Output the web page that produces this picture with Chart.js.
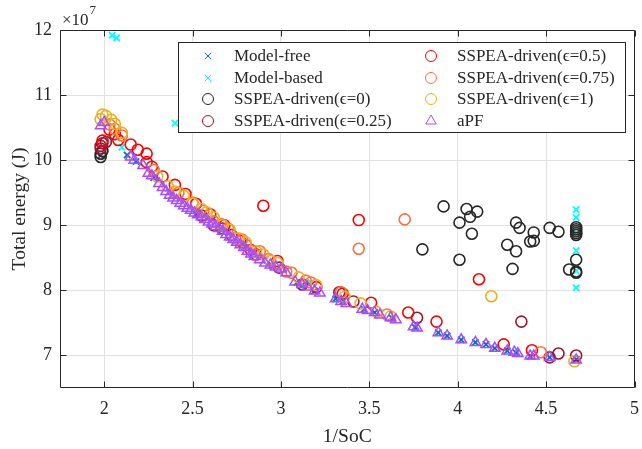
<!DOCTYPE html>
<html><head><meta charset="utf-8">
<script src="https://cdn.jsdelivr.net/npm/chart.js@4/dist/chart.umd.min.js"></script>
<style>html,body{margin:0;padding:0;background:#fff}</style>
</head><body>
<canvas id="c" width="642" height="449" style="display:block;width:642px;height:449px"></canvas>
<script>
const xTicks=[2,2.5,3,3.5,4,4.5,5];
const yTicks=[7,8,9,10,11,12];
const seriesNames=['Model-free','Model-based','SSPEA-driven(ϵ=0)','SSPEA-driven(ϵ=0.25)','SSPEA-driven(ϵ=0.5)','SSPEA-driven(ϵ=0.75)','SSPEA-driven(ϵ=1)','aPF'];

const mfX=[1.98,2.13,2.18,2.28,2.38,2.52,2.66,2.79,2.95,3.09,3.12,3.19,3.31,3.35,3.47,3.53,3.63,3.76,3.89,3.94,4.02,4.10,4.16,4.21,4.28,4.33,4.41,4.52,4.67];
const mfY=[10.07,10.08,9.98,9.73,9.45,9.17,8.93,8.66,8.38,8.12,8.08,7.99,7.87,7.83,7.71,7.66,7.57,7.43,7.35,7.30,7.24,7.20,7.17,7.11,7.07,7.04,6.99,6.97,6.94];

const mbX=[2.045,2.07,2.40,2.10,2.02,3.17,4.67,4.67,4.67,4.67,4.67,4.67];
const mbY=[11.92,11.88,10.57,10.20,10.31,8.12,9.24,9.12,8.89,8.61,8.30,8.04];

const e0X=[1.98,1.98,1.99,3.92,4.05,4.11,4.07,4.01,4.08,3.80,4.01,4.28,4.33,4.35,4.33,4.31,4.43,4.41,4.43,4.52,4.57,4.67,4.67,4.67,4.67,4.67,4.67,4.63,4.67,4.67];
const e0Y=[10.05,10.10,10.14,9.29,9.25,9.21,9.13,9.04,8.87,8.63,8.47,8.70,9.04,8.96,8.60,8.33,8.89,8.75,8.76,8.96,8.90,8.97,8.94,8.91,8.88,8.85,8.47,8.32,8.29,8.27];

const e25X=[1.98,1.98,1.99,2.01,2.55,2.62,2.67,2.72,2.86,2.99,3.12,3.33,3.41,3.77,4.36,4.52,4.57,4.67];
const e25Y=[10.18,10.22,10.26,10.28,9.15,9.00,8.95,8.85,8.55,8.35,8.09,7.97,7.83,7.58,7.52,6.97,7.03,7.00];

const e50X=[1.99,2.03,2.06,2.08,2.15,2.19,2.24,2.24,2.27,2.33,2.40,2.46,2.52,2.60,2.68,2.77,2.83,2.90,2.98,3.20,3.35,3.44,3.51,3.72,3.88,4.12,4.26,4.42];
const e50Y=[10.30,10.47,10.40,10.31,10.24,10.16,10.10,9.97,9.90,9.75,9.62,9.48,9.33,9.17,9.00,8.76,8.62,9.30,8.45,8.05,7.95,9.08,7.81,7.66,7.52,8.17,7.17,7.08];

const e75X=[2.03,2.06,2.10,2.28,2.42,2.50,2.56,2.62,2.66,2.70,2.74,2.78,2.80,2.85,2.88,2.93,3.03,3.06,3.14,3.17,3.34,3.44,3.60,3.70,4.47];
const e75Y=[10.55,10.48,10.38,9.85,9.50,9.35,9.22,9.06,9.02,8.95,8.80,8.78,8.70,8.55,8.60,8.48,8.29,8.27,8.15,8.12,7.97,8.64,7.63,9.09,7.05];

const e100X=[1.98,1.99,2.01,2.04,2.06,2.10,2.30,2.36,2.40,2.45,2.50,2.55,2.58,2.62,2.67,2.71,2.76,2.80,2.86,2.90,2.94,2.98,3.10,3.20,3.36,3.45,3.54,3.62,4.19,4.66];
const e100Y=[10.63,10.70,10.68,10.62,10.56,10.42,9.75,9.60,9.52,9.45,9.33,9.25,9.20,9.12,9.00,8.93,8.80,8.74,8.60,8.55,8.45,8.42,8.20,8.08,7.90,7.80,7.67,7.60,7.91,6.91];

const apfX=[1.98,2.00,2.15,2.17,2.22,2.25,2.27,2.31,2.33,2.35,2.37,2.39,2.41,2.43,2.45,2.47,2.49,2.51,2.53,2.55,2.57,2.59,2.61,2.63,2.65,2.67,2.69,2.71,2.73,2.75,2.77,2.79,2.81,2.83,2.85,2.88,2.91,2.94,2.97,3.00,3.03,3.08,3.12,3.15,3.19,3.22,3.31,3.34,3.37,3.46,3.49,3.53,3.56,3.62,3.65,3.75,3.77,3.89,3.94,4.02,4.10,4.16,4.21,4.28,4.32,4.34,4.41,4.43,4.52,4.67];
const apfY=[10.53,10.58,10.05,10.00,9.92,9.80,9.76,9.64,9.58,9.52,9.46,9.42,9.38,9.34,9.30,9.26,9.23,9.19,9.16,9.13,9.09,9.05,9.02,8.98,8.95,8.91,8.86,8.82,8.78,8.74,8.70,8.66,8.60,8.56,8.52,8.47,8.42,8.39,8.36,8.33,8.27,8.13,8.09,8.05,7.99,7.96,7.87,7.83,7.80,7.71,7.69,7.66,7.62,7.58,7.55,7.44,7.42,7.35,7.30,7.24,7.20,7.17,7.11,7.07,7.05,7.03,6.99,6.99,6.97,6.93];

const colors=['#0072BD','#00FFFF','#262626','#A2142F','#FF0000','#FF6F3C','#EDB120','#A64DFF'];
const styles=['crossRot','crossRot','circle','circle','circle','circle','circle','triangle'];
const radii=[4.5,4.5,5.5,5.5,5.5,5.5,5.5,6];
const widths=[1.8,1.8,1.6,1.6,1.6,1.6,1.6,1.5];
const xs=[mfX,mbX,e0X,e25X,e50X,e75X,e100X,apfX];
const ys=[mfY,mbY,e0Y,e25Y,e50Y,e75Y,e100Y,apfY];

const FONT='"Liberation Serif", serif';
const AX='#262626';

const datasets=seriesNames.map((n,i)=>({
  label:n,
  data:xs[i].map((x,k)=>({x:x,y:ys[i][k]})),
  pointStyle:styles[i],
  pointRadius:radii[i],
  pointBorderWidth:widths[i],
  borderColor:colors[i],
  backgroundColor:'rgba(0,0,0,0)',
  pointBackgroundColor:'rgba(0,0,0,0)',
  showLine:false,
  order:7-i
}));

const framePlugin={
  id:'frame',
  afterDatasetsDraw(chart){
    const ctx=chart.ctx, a=chart.chartArea, sx=chart.scales.x, sy=chart.scales.y;
    ctx.save();
    ctx.strokeStyle=AX; ctx.lineWidth=1;
    const L=Math.round(a.left)+0.5, R=Math.round(a.right)-0.5, T=Math.round(a.top)+0.5, B=Math.round(a.bottom)-0.5;
    ctx.beginPath();
    ctx.rect(L,T,R-L,B-T);
    const tl=6;
    xTicks.forEach(v=>{const p=Math.round(sx.getPixelForValue(v))+0.5; ctx.moveTo(p,B); ctx.lineTo(p,B-tl); ctx.moveTo(p,T); ctx.lineTo(p,T+tl);});
    yTicks.forEach(v=>{const p=Math.round(sy.getPixelForValue(v))+0.5; ctx.moveTo(L,p); ctx.lineTo(L+tl,p); ctx.moveTo(R,p); ctx.lineTo(R-tl,p);});
    ctx.stroke();
    ctx.fillStyle=AX; ctx.textBaseline='alphabetic'; ctx.textAlign='left';
    ctx.font='17px '+FONT;
    ctx.fillText('×10',62,25);
    const w=ctx.measureText('×10').width;
    ctx.font='13px '+FONT;
    ctx.fillText('7',62+w+1,14);
    ctx.fillStyle='#fff';
    ctx.fillRect(178,42,447,90);
    ctx.strokeStyle=AX; ctx.lineWidth=1;
    ctx.strokeRect(178.5,42.5,447,90);
    const mx=[208,431], tx=[234,457], ry=[56,78,99,121];
    ctx.font='17px '+FONT; ctx.textBaseline='middle';
    seriesNames.forEach((n,i)=>{
      const c=Math.floor(i/4), r=i%4;
      ctx.strokeStyle=colors[i]; ctx.fillStyle='rgba(0,0,0,0)';
      Chart.helpers.drawPoint(ctx,{pointStyle:styles[i],radius:radii[i],rotation:0,borderWidth:widths[i]},mx[c],ry[r]);
      ctx.fillStyle=AX;
      ctx.fillText(n,tx[c],ry[r]+1);
    });
    ctx.restore();
  }
};

new Chart(document.getElementById('c'),{
  type:'scatter',
  data:{datasets},
  options:{
    responsive:false,
    animation:false,
    events:[],
    layout:{padding:{top:30,right:6,left:0,bottom:0}},
    plugins:{legend:{display:false},tooltip:{enabled:false}},
    scales:{
      x:{type:'linear',min:1.75,max:5,
        afterBuildTicks:s=>{s.ticks=xTicks.map(v=>({value:v}));},
        afterFit:s=>{s.height=61;s.paddingRight=0;s.paddingLeft=0;},
        ticks:{font:{family:FONT,size:18},color:AX,padding:10,maxRotation:0,callback:v=>String(v)},
        grid:{color:'#e2e2e2',drawTicks:false,lineWidth:1},
        border:{display:false},
        title:{display:true,text:'1/SoC',font:{family:FONT,size:19.5},color:AX,padding:{top:0,bottom:0}}
      },
      y:{type:'linear',min:6.5,max:12,
        afterBuildTicks:s=>{s.ticks=yTicks.map(v=>({value:v}));},
        afterFit:s=>{s.width=60;s.paddingTop=0;s.paddingBottom=0;},
        ticks:{font:{family:FONT,size:18},color:AX,padding:8,callback:v=>String(v)},
        grid:{color:'#e2e2e2',drawTicks:false,lineWidth:1},
        border:{display:false},
        title:{display:true,text:'Total energy (J)',font:{family:FONT,size:19.5},color:AX,padding:{top:8,bottom:0}}
      }
    }
  },
  plugins:[framePlugin]
});
</script>
</body></html>
